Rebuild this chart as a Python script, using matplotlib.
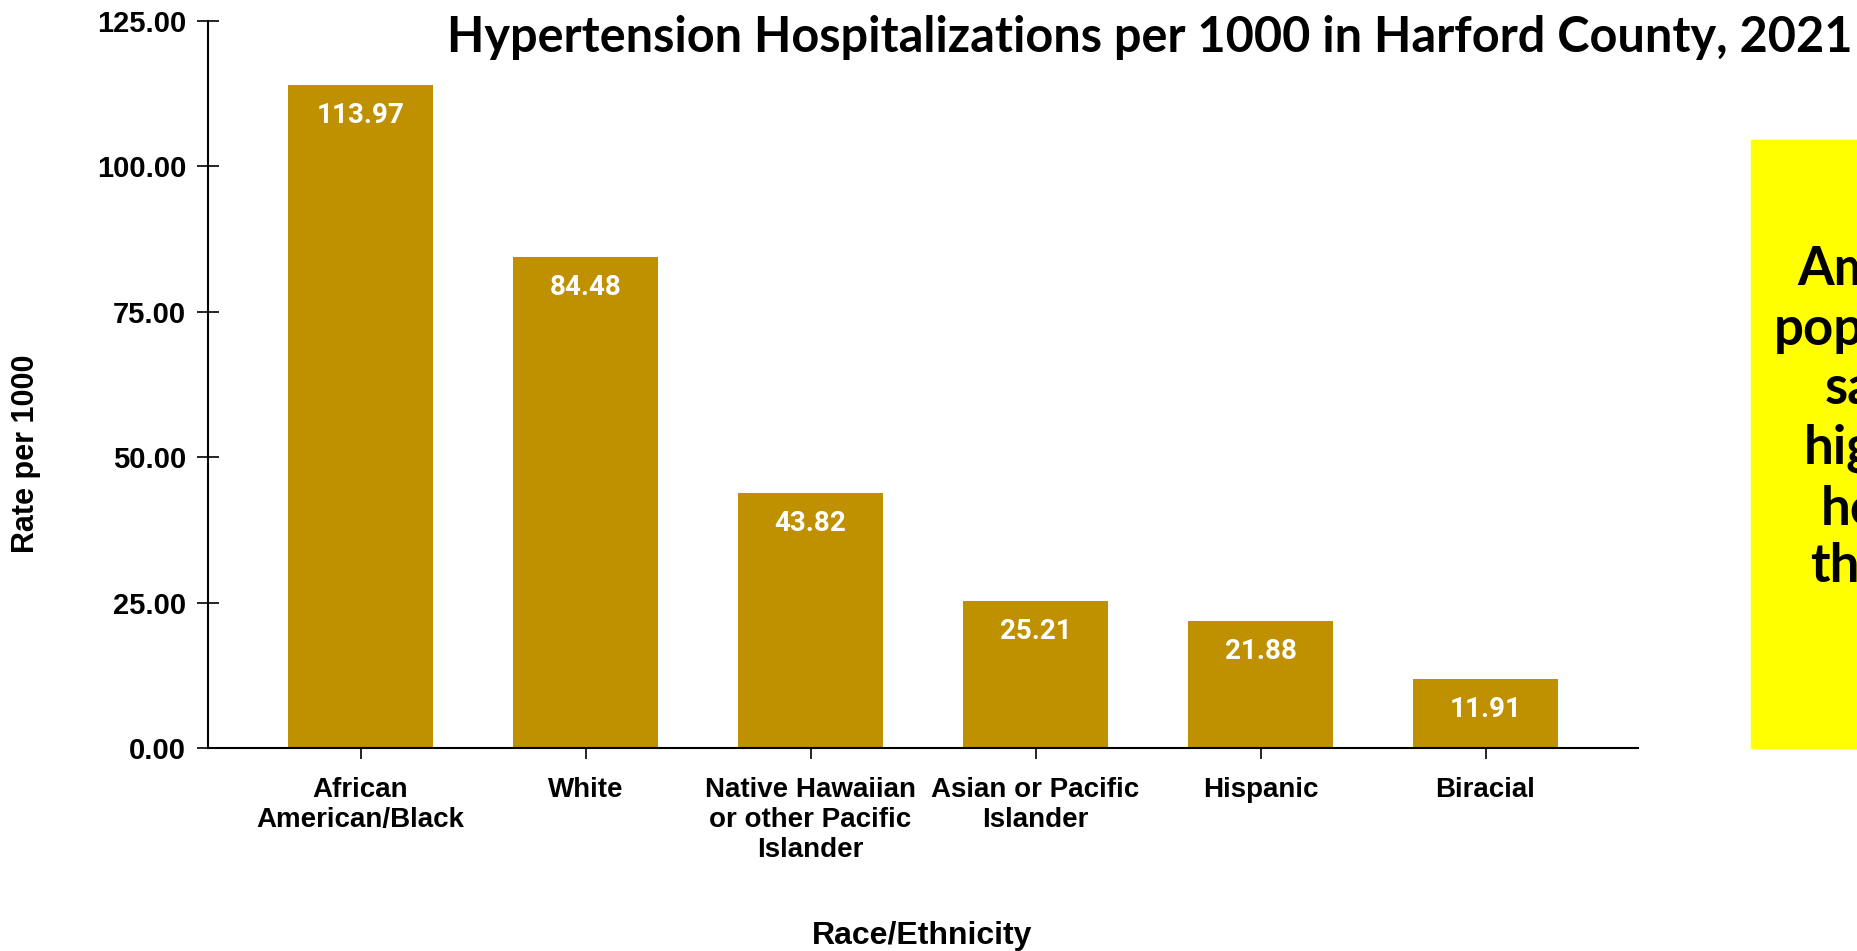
import matplotlib
matplotlib.use("Agg")
import matplotlib.pyplot as plt
from matplotlib.patches import Rectangle
import numpy as np

groups = ["African\nAmerican/Black", "White", "Native Hawaiian\nor other Pacific\nIslander",
          "Asian or Pacific\nIslander", "Hispanic", "Biracial"]
rates = [113.97, 84.48, 43.82, 25.21, 21.88, 11.91]
yticks = [0, 25, 50, 75, 100, 125]
title = "Hypertension Hospitalizations per 1000 in Harford County, 2021"
note_lines = ["Among", "populations", "saw", "highest", "hospital", "the"]

bar_col = "#BF9000"
axis_font = ["Liberation Sans", "DejaVu Sans"]

fig = plt.figure(figsize=(18.58, 9.51), dpi=100)
ax = fig.add_axes([0.1122, 0.2135, 0.7692, 0.7645])

x = np.arange(len(groups))
bars = ax.bar(x, rates, width=0.647, color=bar_col, zorder=2)
for xi, v in zip(x, rates):
    ax.annotate(f"{v:.2f}", (xi, v), xytext=(0, -22), textcoords="offset points",
                ha="center", va="center", color="white", fontsize=20,
                fontweight="bold", family=["Roboto", "DejaVu Sans"])

ax.set_xlim(-0.676, len(groups) - 1 + 0.676)
ax.set_ylim(0, 125)
ax.set_yticks(yticks)
ax.set_yticklabels([f"{t:.2f}" for t in yticks], fontsize=21, fontweight="bold", family=axis_font)
ax.set_xticks(x)
ax.set_xticklabels(groups, fontsize=20, fontweight="bold", family=axis_font, linespacing=1.2)
ax.tick_params(axis="both", direction="inout", length=16, width=1.2, color="black")
ax.tick_params(axis="y", pad=8)
ax.tick_params(axis="x", pad=13)

for s in ["top", "right"]:
    ax.spines[s].set_visible(False)
for s in ["left", "bottom"]:
    ax.spines[s].set_linewidth(1.5)

fig.text(26 / 1858, 1 - 454 / 951, "Rate per 1000", rotation=90, ha="center", va="center",
         fontsize=22, fontweight="bold", family=axis_font)
fig.text(922 / 1858, 1 - 936 / 951, "Race/Ethnicity", ha="center", va="center",
         fontsize=23, fontweight="bold", family=axis_font)
fig.text(1150 / 1858, 1 - 37 / 951, title, ha="center", va="center",
         fontsize=35, fontweight="bold", family=["Lato", "DejaVu Sans"])

# yellow callout box, cut off by the right edge
fig.add_artist(Rectangle((1751 / 1858, 203 / 951), 0.2, (748 - 140) / 951,
                         transform=fig.transFigure, color="#FFFF00", zorder=0))
starts = [1797, 1774, 1825, 1804, 1821, 1810]
ys = [270, 329, 389, 448, 510, 566]
for txt, sx, sy in zip(note_lines, starts, ys):
    fig.text(sx / 1858, 1 - sy / 951, txt, ha="left", va="center", fontsize=38,
             fontweight="bold", family=["Lato", "DejaVu Sans"])

fig.savefig("out.png", dpi=100)
